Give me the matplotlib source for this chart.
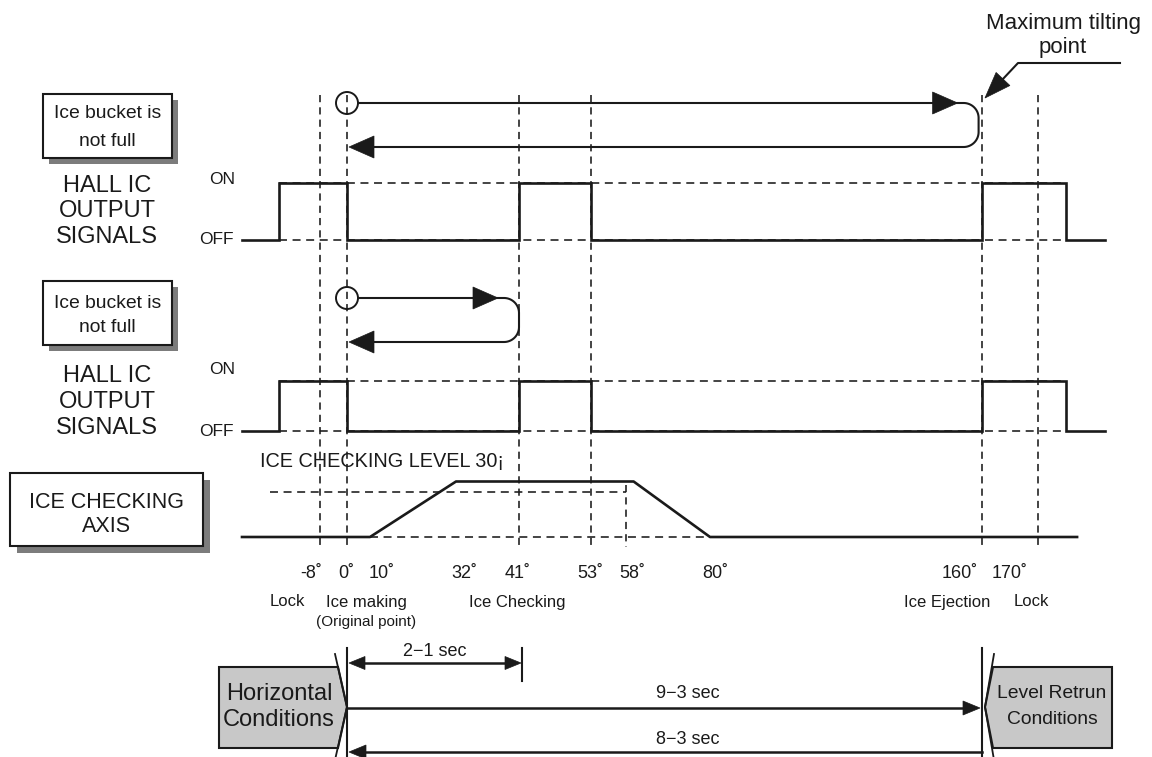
import numpy as np
import matplotlib
matplotlib.use("Agg")
import matplotlib.pyplot as plt
from matplotlib.patches import Polygon, Rectangle, Circle
from matplotlib import font_manager

# ------------------------------------------------------------------ data
angle_ticks = [-8, 0, 10, 32, 41, 53, 58, 80, 160, 170]
angle_tick_labels = ["-8˚", "0˚", "10˚", "32˚", "41˚", "53˚", "58˚", "80˚", "160˚", "170˚"]
guide_angles = [-8, 0, 41, 53, 160, 170]
hall_span = [-31, 182]
hall_toggle_angles = [-20, 0, 41, 53, 160, 175]
check_angles = [-31, 10, 32, 60, 80, 177]
check_levels = [0, 0, 37, 37, 0, 0]
check_ref_level = 30
check_ref_end = 58
check_base_dash = [10, 80]
loop_turn_angles = [159, 41]
stage_labels = ["Lock", "Ice making\n(Original point)", "Ice Checking", "Ice Ejection", "Lock"]
box_labels = ["Ice bucket is\nnot full", "Ice bucket is\nnot full", "ICE CHECKING\nAXIS"]
signal_label = ["HALL IC", "OUTPUT", "SIGNALS"]
durations = ["2−1 sec", "9−3 sec", "8−3 sec"]
duration_angles = [(0, 41), (0, 160), (160, 0)]
condition_labels = ["Horizontal\nConditions", "Level Retrun\nConditions"]
level_label = "ICE CHECKING LEVEL 30¡"
tilt_label = ["Maximum tilting", "point"]

# ------------------------------------------------------------------ layout
W, H = 1152, 757
ANCHOR_DEG = [-31, -8, 0, 10, 32, 41, 53, 58, 80, 160, 170, 182]
ANCHOR_PX = [242, 320, 347, 370, 456, 519, 591, 626, 710, 982, 1038, 1105]


def X(a):
    return float(np.interp(a, ANCHOR_DEG, ANCHOR_PX))


K = "#1a1a1a"
GREY_SHADOW = "#7c7c7c"
GREY_FILL = "#c8c8c8"
SIG_LW = 1.9
DASH = (0, (4.5, 3.2))
DASH_LW = 1.15

names = {f.name for f in font_manager.fontManager.ttflist}
REG = "Liberation Sans" if "Liberation Sans" in names else "DejaVu Sans"
HAS_NARROW = "Liberation Sans Narrow" in names


def reg(size):
    return dict(family=[REG, "DejaVu Sans"], fontsize=size, color=K)


def nar(size):
    if HAS_NARROW:
        return dict(family=["Liberation Sans Narrow", REG, "DejaVu Sans"], fontsize=size, color=K)
    return dict(family=[REG, "DejaVu Sans"], fontsize=size * 0.84, color=K)


fig = plt.figure(figsize=(W / 100, H / 100), dpi=100)
ax = fig.add_axes([0, 0, 1, 1])
ax.set_xlim(0, W)
ax.set_ylim(H, 0)
ax.axis("off")


def tri(tip, back, half, **kw):
    tip = np.array(tip, float)
    back = np.array(back, float)
    d = tip - back
    n = np.array([-d[1], d[0]]) / np.hypot(*d) * half
    ax.add_patch(Polygon([tip, back + n, back - n], closed=True, fc=K, ec=K, lw=0.5, zorder=5))


def shadow_box(x0, y0, x1, y1, lines, ys, fmt, off=7):
    ax.add_patch(Rectangle((x0 + off, y0 + off), x1 - x0, y1 - y0, fc=GREY_SHADOW, ec="none", zorder=2))
    ax.add_patch(Rectangle((x0, y0), x1 - x0, y1 - y0, fc="white", ec=K, lw=1.5, zorder=3))
    for t, yy in zip(lines, ys):
        ax.text((x0 + x1) / 2, yy, t, ha="center", va="center", zorder=4, **fmt)


# ------------------------------------------------------------------ vertical guides
GUIDE_TOP, GUIDE_BOT = 95, 547
for a in guide_angles:
    ax.plot([X(a), X(a)], [GUIDE_TOP, GUIDE_BOT], color=K, lw=DASH_LW, ls=DASH, zorder=1)

# ------------------------------------------------------------------ hall rows
ROWS = [
    dict(on=183, off=240, loop=(103, 147), box=(94, 158), btxt=(114, 141), sig=(186, 211, 237), onlab=179),
    dict(on=381, off=431, loop=(298, 342), box=(281, 345), btxt=(303, 328), sig=(376, 402, 428), onlab=370),
]
for r, row in enumerate(ROWS):
    y_on, y_off = row["on"], row["off"]
    for yy in (y_on, y_off):
        ax.plot([X(hall_toggle_angles[0]), X(hall_toggle_angles[-1])], [yy, yy],
                color=K, lw=DASH_LW, ls=(0, (5, 3.5)), zorder=1)
    xs, ys = [X(hall_span[0])], [y_off]
    cur = y_off
    for a in hall_toggle_angles:
        new = y_on if cur == y_off else y_off
        xs += [X(a), X(a)]
        ys += [cur, new]
        cur = new
    xs.append(X(hall_span[1]))
    ys.append(cur)
    ax.plot(xs, ys, color=K, lw=SIG_LW, solid_joinstyle="miter", zorder=3)

    ax.text(222, row["onlab"], "ON", ha="center", va="center", **reg(12.5))
    ax.text(234, y_off, "OFF", ha="right", va="center", **reg(12.5))
    for t, yy in zip(signal_label, row["sig"]):
        ax.text(107, yy, t, ha="center", va="center", **reg(17))

    shadow_box(43, row["box"][0], 172, row["box"][1], box_labels[r].split("\n"), row["btxt"], nar(16.5), off=6)

    # sweep loop
    y1, y2 = row["loop"]
    xt = X(loop_turn_angles[r])
    rad = 15
    cx = X(0)
    ax.add_patch(Circle((cx, y1), 11, fc="none", ec=K, lw=1.4, zorder=4))
    th1 = np.linspace(np.pi / 2, 0, 25)
    th2 = np.linspace(0, -np.pi / 2, 25)
    px = [cx + 11] + list(xt - rad + rad * np.cos(th1)) + list(xt - rad + rad * np.cos(th2)) + [cx + 20]
    py = [y1] + list(y1 + rad - rad * np.sin(th1)) + list(y2 - rad - rad * np.sin(th2)) + [y2]
    ax.plot(px, py, color=K, lw=1.5, zorder=4, solid_capstyle="butt")
    tri((xt - 21, y1), (xt - 46, y1), 11)
    tri((cx + 2, y2), (cx + 27, y2), 11)

# ------------------------------------------------------------------ maximum tilting point
ax.text(1063, 23, tilt_label[0], ha="center", va="center", **reg(16))
ax.text(1063, 48, tilt_label[1], ha="center", va="center", **reg(16))
ax.plot([1120, 1018, 1002], [63, 63, 80], color=K, lw=1.5, zorder=4)
tri((985, 98), (1003, 79), 9.5)

# ------------------------------------------------------------------ ice checking axis
BASE_Y, LEVEL_PX = 537, 1.5


def LY(v):
    return BASE_Y - v * LEVEL_PX


ax.plot([270, X(check_ref_end)], [LY(check_ref_level)] * 2, color=K, lw=DASH_LW, ls=(0, (5, 3.5)), zorder=1)
ax.plot([X(check_base_dash[0]), X(check_base_dash[1])], [BASE_Y] * 2, color=K, lw=DASH_LW, ls=(0, (5, 3.5)), zorder=1)
ax.plot([X(check_ref_end)] * 2, [LY(max(check_levels)) + 3, GUIDE_BOT], color=K, lw=DASH_LW, ls=DASH, zorder=1)
ax.plot([X(a) for a in check_angles], [LY(v) for v in check_levels], color=K, lw=SIG_LW, zorder=3)
ax.text(260, 462, level_label, ha="left", va="center", **nar(17))

shadow_box(10, 473, 203, 546, box_labels[2].split("\n"), (502, 527), reg(15.5), off=7)

# angle tick labels
TICK_LABEL_X = [311, 346, 382, 464, 518, 590, 632, 715, 960, 1010]
for lab, xx in zip(angle_tick_labels, TICK_LABEL_X):
    ax.text(xx, 573, lab, ha="center", va="center", **reg(13))

# stage labels
STAGE_X = [287, 366, 517, 947, 1031]
for lab, xx in zip(stage_labels, STAGE_X):
    for i, line in enumerate(lab.split("\n")):
        ax.text(xx, 602 + 20 * i, line, ha="center", va="center", **reg(12 if i == 0 else 11))

# ------------------------------------------------------------------ bottom timing
x0, x1 = X(0), X(160)
ax.plot([x0, x0], [648, 757], color=K, lw=1.5, zorder=3)
ax.plot([x1, x1], [648, 757], color=K, lw=1.5, zorder=3)
ax.plot([X(41) + 3] * 2, [648, 681], color=K, lw=1.5, zorder=3)

ax.add_patch(Polygon([(219, 667), (338, 667), (x0, 707), (338, 748), (219, 748)], closed=True,
                     fc=GREY_FILL, ec=K, lw=1.5, zorder=2))
ax.plot([335, x0, 335], [654, 707, 760], color=K, lw=1.3, zorder=3)
ax.text(279, 694, condition_labels[0].split("\n")[0], ha="center", va="center", **reg(17))
ax.text(279, 720, condition_labels[0].split("\n")[1], ha="center", va="center", **reg(17))

ax.add_patch(Polygon([(993, 667), (1112, 667), (1112, 748), (993, 748), (x1 + 3, 707)], closed=True,
                     fc=GREY_FILL, ec=K, lw=1.5, zorder=2))
ax.plot([994, x1 + 3, 994], [654, 707, 760], color=K, lw=1.3, zorder=3)
ax.text(1052, 694, condition_labels[1].split("\n")[0], ha="center", va="center", **nar(16.5))
ax.text(1052, 720, condition_labels[1].split("\n")[1], ha="center", va="center", **nar(16.5))

ARROW_Y = [663, 708, 752]
TEXT_Y = [651, 694, 739]
TEXT_X = [435, 688, 688]
for (a0, a1), lab, ay, ty, tx, k in zip(duration_angles, durations, ARROW_Y, TEXT_Y, TEXT_X, range(3)):
    xa, xb = X(a0), X(a1)
    if k == 0:
        xa, xb = xa + 2, xb + 2
        ax.plot([xa + 10, xb - 10], [ay, ay], color=K, lw=1.8, zorder=3)
        tri((xa, ay), (xa + 16, ay), 6.5)
        tri((xb, ay), (xb - 16, ay), 6.5)
    else:
        d = 1 if xb > xa else -1
        xb = xb - 2 * d if d > 0 else xb + 2
        ax.plot([xa, xb - 10 * d], [ay, ay], color=K, lw=1.8, zorder=3)
        tri((xb, ay), (xb - 17 * d, ay), 7)
    ax.text(tx, ty, lab, ha="center", va="center", **reg(13))

fig.savefig("out.png", dpi=100)
